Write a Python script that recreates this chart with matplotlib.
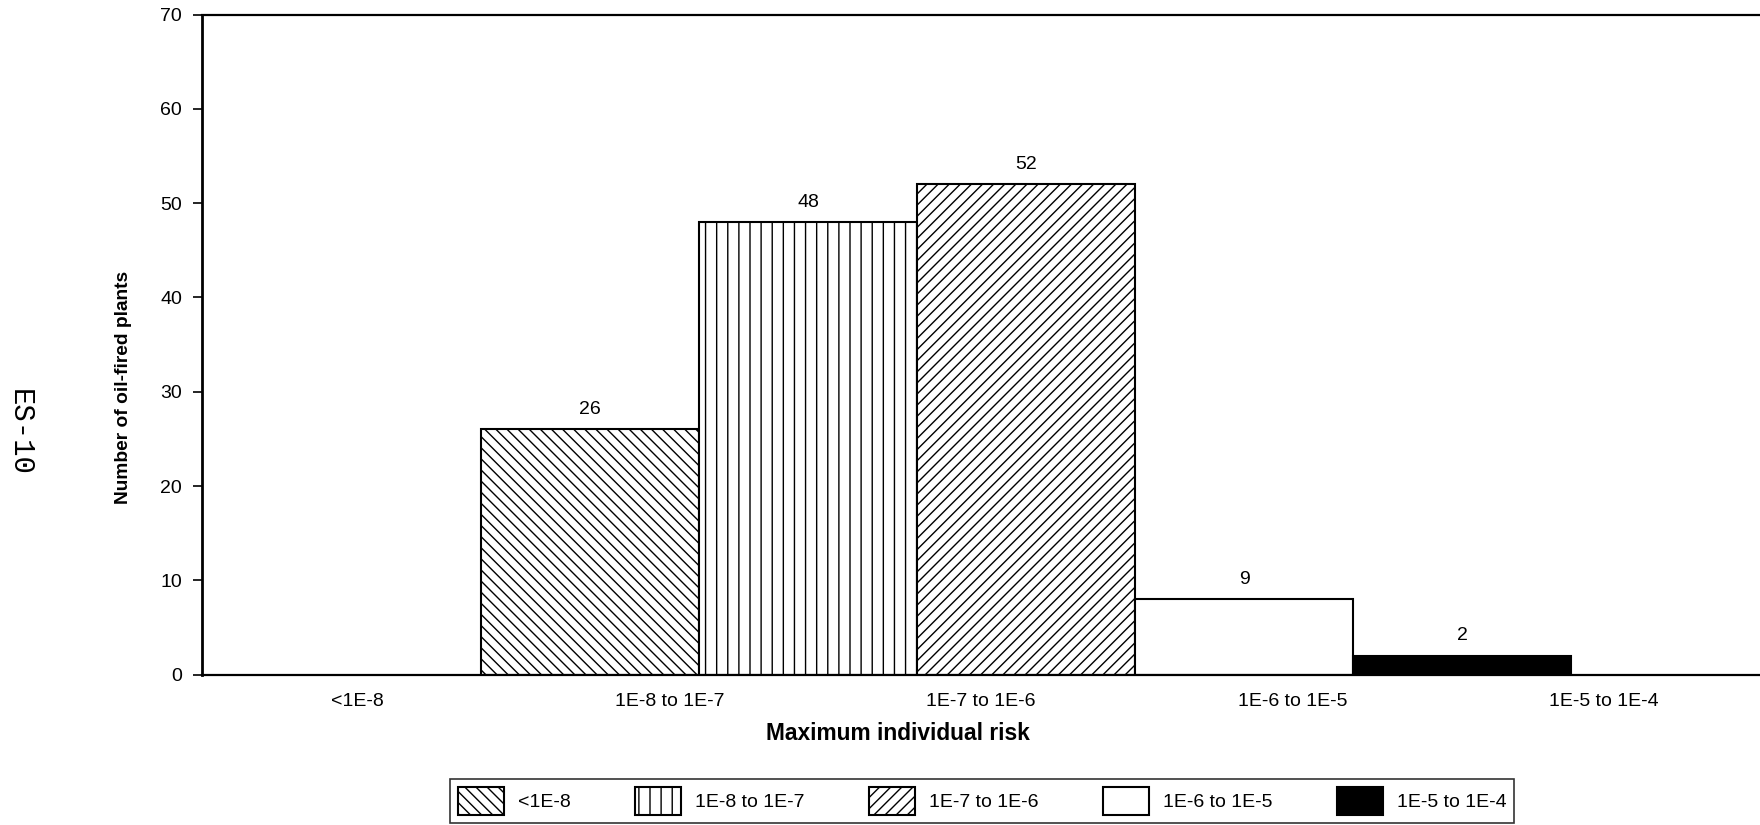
import matplotlib
matplotlib.use("Agg")
import matplotlib.pyplot as plt

# data
categories = ["<1E-8", "1E-8 to 1E-7", "1E-7 to 1E-6", "1E-6 to 1E-5", "1E-5 to 1E-4"]
bar_heights = [26, 48, 52, 8, 2]
bar_labels = ["26", "48", "52", "9", "2"]
hatches = ["\\" * 6, "|||", "/" * 6, "", ""]
fills = ["white", "white", "white", "white", "black"]
yticks = [0, 10, 20, 30, 40, 50, 60, 70]

plt.rcParams["font.family"] = ["Liberation Sans", "DejaVu Sans"]
plt.rcParams["hatch.linewidth"] = 0.5
plt.rcParams["hatch.color"] = "black"

W, H = 1760, 825
fig = plt.figure(figsize=(8.8, 4.125), dpi=200)
ax = fig.add_axes([202 / W, 1 - 674.6 / H, (W - 202) / W, 660 / H])

bw = 0.70
x0 = 0.395
bars = []
for i in range(len(categories)):
    b = ax.bar(x0 + bw * i, bar_heights[i], width=bw, align="edge",
               color=fills[i], edgecolor="black", linewidth=0.75,
               hatch=hatches[i], label=categories[i], zorder=2)
    bars.append(b)
    ax.text(x0 + bw * i + bw / 2, bar_heights[i] + 1.2, bar_labels[i],
            ha="center", va="bottom", fontsize=7)

ax.set_xlim(-0.5, 4.5)
ax.set_ylim(0, 70)
ax.set_yticks(yticks)
ax.set_xticks(range(len(categories)))
ax.set_xticklabels(categories, fontsize=7)
ax.tick_params(axis="x", length=0, pad=6.5)
ax.tick_params(axis="y", length=3.2, width=0.6, pad=4, labelsize=7)

ax.spines["right"].set_visible(False)
ax.spines["left"].set_linewidth(1.0)
ax.spines["bottom"].set_linewidth(0.8)
ax.spines["top"].set_linewidth(0.8)

fig.text(123 / W, 1 - 387 / H, "Number of oil-fired plants", rotation=90,
         ha="center", va="center", fontsize=6.9, fontweight="bold")
fig.text(898 / W, 1 - 733 / H, "Maximum individual risk",
         ha="center", va="center", fontsize=8.2, fontweight="bold")
fig.text(20 / W, 1 - 432 / H, "ES-10", rotation=-90, ha="center", va="center",
         fontsize=10.4, family="Liberation Mono")

leg = fig.legend(handles=[b[0] for b in bars], labels=categories,
                 loc="center", bbox_to_anchor=(982 / W, 1 - 801 / H),
                 ncol=5, fontsize=7, frameon=True, fancybox=False,
                 handlelength=2.4, handleheight=1.9, handletextpad=0.7,
                 columnspacing=3.3, borderpad=0.4)
leg.get_frame().set_edgecolor("black")
leg.get_frame().set_linewidth(0.6)

fig.savefig("out.png", dpi=200)
